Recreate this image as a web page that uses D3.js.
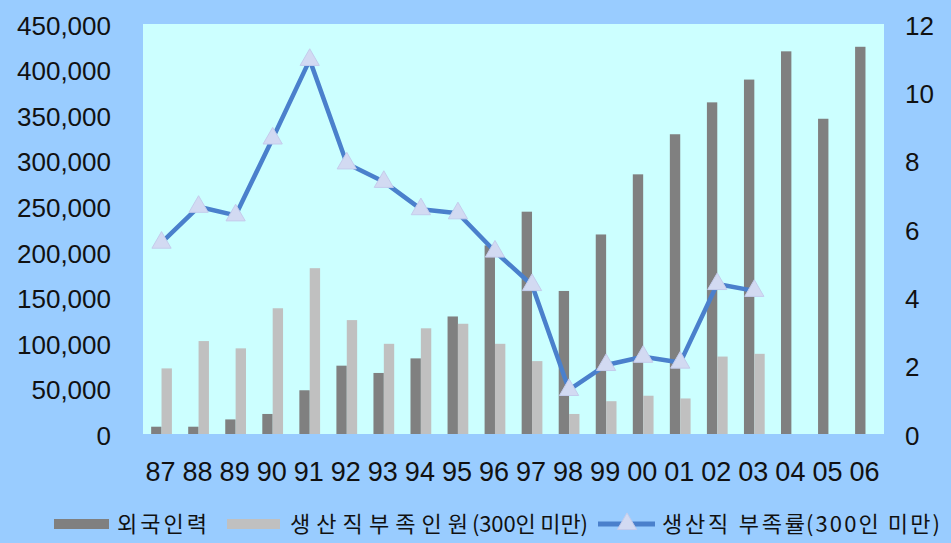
<!DOCTYPE html>
<html>
<head>
<meta charset="utf-8">
<script src="https://cdn.jsdelivr.net/npm/d3@7"></script>
<style>
  html, body { margin: 0; padding: 0; background: #99CCFF; }
  svg { display: block; }
  text { font-family: "Liberation Sans", Arial, sans-serif; fill: #111; }
  .ko { font-family: "Noto Sans CJK KR", "Liberation Sans", sans-serif; }
</style>
</head>
<body>
<svg id="chart" width="951" height="543"></svg>
<script>
// Years (two-digit labels)
const years = ["87","88","89","90","91","92","93","94","95","96","97","98","99","00","01","02","03","04","05","06"];
// 외국인력 (persons)
const foreignWorkers = [8000, 8000, 16000, 22000, 48000, 75000, 67000, 83000, 129000, 207000, 244000, 157000, 219000, 285000, 329000, 364000, 389000, 420000, 346000, 425000];
// 생산직부족인원 (300인 미만, persons)
const shortageCount = [72000, 102000, 94000, 138000, 182000, 125000, 99000, 116000, 121000, 99000, 80000, 22000, 36000, 42000, 39000, 85000, 88000, null, null, null];
// 생산직 부족률 (300인 미만, %)
const shortageRate = [5.6, 6.65, 6.4, 8.65, 10.95, 7.92, 7.38, 6.58, 6.46, 5.34, 4.36, 1.29, 2.02, 2.26, 2.09, 4.39, 4.19, null, null, null];

const leftTicks = [0, 50000, 100000, 150000, 200000, 250000, 300000, 350000, 400000, 450000];
const rightTicks = [0, 2, 4, 6, 8, 10, 12];

const svg = d3.select("#chart");
const W = 951, H = 543;
const plot = { left: 143, right: 884, top: 24, bottom: 434 };

svg.append("rect").attr("width", W).attr("height", H).attr("fill", "#99CCFF");
svg.append("rect")
  .attr("x", plot.left).attr("y", plot.top)
  .attr("width", plot.right - plot.left).attr("height", plot.bottom - plot.top)
  .attr("fill", "#CCFFFF");

const x = d3.scaleBand().domain(years).range([plot.left, plot.right]);
const yL = d3.scaleLinear().domain([0, 450000]).range([plot.bottom, plot.top]);
const yR = d3.scaleLinear().domain([0, 12]).range([plot.bottom, plot.top]);

const barW = x.bandwidth() * 0.28;
const fmt = d3.format(",");

// Left axis
const axL = d3.axisLeft(yL).tickValues(leftTicks).tickFormat(fmt).tickSize(0).tickPadding(0);
const gL = svg.append("g").attr("transform", "translate(111,2)").call(axL);
gL.select(".domain").remove();
gL.selectAll("text").attr("font-size", 26).attr("fill", "#111")
  .style("font-family", "'Liberation Sans', Arial, sans-serif");

// Right axis
const axR = d3.axisRight(yR).tickValues(rightTicks).tickSize(0).tickPadding(0);
const gR = svg.append("g").attr("transform", "translate(905,2)").call(axR);
gR.select(".domain").remove();
gR.selectAll("text").attr("font-size", 26).attr("fill", "#111")
  .style("font-family", "'Liberation Sans', Arial, sans-serif");

// Bottom axis (year labels)
const axB = d3.axisBottom(x).tickSize(0).tickPadding(0);
const gB = svg.append("g").attr("transform", "translate(-1,462)").call(axB);
gB.select(".domain").remove();
gB.selectAll("text").attr("font-size", 27).attr("fill", "#111")
  .style("font-family", "'Liberation Sans', Arial, sans-serif");

// Bars: 외국인력
svg.append("g").selectAll("rect")
  .data(years.map((y, i) => ({ y, v: foreignWorkers[i] })).filter(d => d.v != null))
  .join("rect")
  .attr("x", d => x(d.y) + x.bandwidth() / 2 - barW)
  .attr("y", d => yL(d.v))
  .attr("width", barW)
  .attr("height", d => yL(0) - yL(d.v))
  .attr("fill", "#808080");

// Bars: 생산직부족인원
svg.append("g").selectAll("rect")
  .data(years.map((y, i) => ({ y, v: shortageCount[i] })).filter(d => d.v != null))
  .join("rect")
  .attr("x", d => x(d.y) + x.bandwidth() / 2)
  .attr("y", d => yL(d.v))
  .attr("width", barW)
  .attr("height", d => yL(0) - yL(d.v))
  .attr("fill", "#C0C0C0");

// Line: 생산직 부족률
const ratePts = years.map((y, i) => ({ y, v: shortageRate[i] })).filter(d => d.v != null);
const line = d3.line().x(d => x(d.y) + x.bandwidth() / 2).y(d => yR(d.v));
svg.append("path").datum(ratePts)
  .attr("d", line).attr("fill", "none")
  .attr("stroke", "#4A80CC").attr("stroke-width", 4.5)
  .attr("stroke-linejoin", "round");

const tri = d3.symbol().type(d3.symbolTriangle).size(160);
svg.append("g").selectAll("path")
  .data(ratePts).join("path")
  .attr("d", tri)
  .attr("transform", d => `translate(${x(d.y) + x.bandwidth() / 2},${yR(d.v)})`)
  .attr("fill", "#D2DAF2").attr("stroke", "#C4CCEC").attr("stroke-width", 1);

// Legend
const lg = svg.append("g");
const ly = 524;
function legendText(str, x0, len) {
  lg.append("text").attr("class", "ko")
    .attr("x", x0).attr("y", ly).attr("dy", "0.35em")
    .attr("font-size", 22)
    .attr("textLength", len).attr("lengthAdjust", "spacing")
    .text(str);
}
lg.append("rect").attr("x", 54).attr("y", 519).attr("width", 55).attr("height", 10).attr("fill", "#808080");
legendText("외국인력", 117, 90);

lg.append("rect").attr("x", 227).attr("y", 519).attr("width", 53).attr("height", 10).attr("fill", "#C0C0C0");
legendText("생산직부족인원", 290, 178);
legendText("(300인 미만)", 472, 116);

lg.append("line").attr("x1", 598).attr("x2", 655).attr("y1", ly).attr("y2", ly)
  .attr("stroke", "#4A80CC").attr("stroke-width", 5);
lg.append("path").attr("d", tri).attr("transform", `translate(627,${ly})`)
  .attr("fill", "#D2DAF2").attr("stroke", "#C4CCEC");
legendText("생산직 부족률", 662, 143);
legendText("(300인 미만)", 806, 134);
</script>
</body>
</html>
